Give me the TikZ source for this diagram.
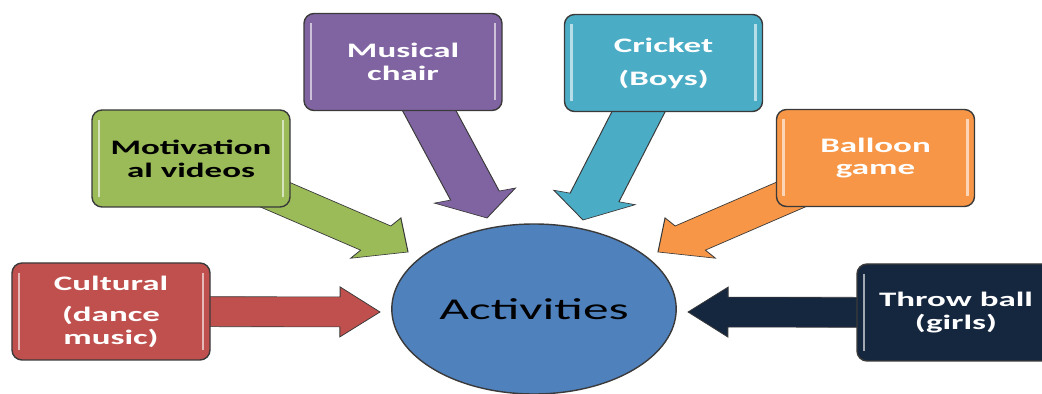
\documentclass[tikz,border=0pt]{standalone}
\usepackage{fontspec}
\setmainfont{Carlito}
\newfontfamily\boxfont[FakeStretch=1.7]{Carlito}
\usetikzlibrary{shapes.geometric}
\usetikzlibrary{calc}
\usetikzlibrary{backgrounds}

\definecolor{culred}{HTML}{C0504D}
\definecolor{motgreen}{HTML}{9BBB59}
\definecolor{muspurple}{HTML}{8064A2}
\definecolor{cricblue}{HTML}{4BACC6}
\definecolor{balorange}{HTML}{F79646}
\definecolor{thrnavy}{HTML}{15263F}
\definecolor{actblue}{HTML}{4F81BD}
\definecolor{edgegray}{HTML}{3A3A3A}

\tikzset{
	actbox/.style={draw=edgegray, line width=0.8pt, rounded corners=0.2cm,
		minimum width=3.96cm, minimum height=1.94cm, align=center, text=white,
		font=\boxfont\bfseries\fontsize{11.7}{13}\selectfont,
		path picture={\draw[white, opacity=0.6, line width=1.4pt]
			([shift={(0.14,-0.2)}]path picture bounding box.north west) -- ([shift={(0.14,0.2)}]path picture bounding box.south west)
			([shift={(-0.14,-0.2)}]path picture bounding box.north east) -- ([shift={(-0.14,0.2)}]path picture bounding box.south east);}},
	blkarrow/.style={draw=edgegray, line width=0.6pt, line join=miter}
}

% block arrow, drawn unsquashed and then squashed in y
\newcommand{\blkarrow}[3]{%
	\path let \p1=(#1), \p2=(#2) in (\x1,{\y1/0.588}) coordinate (s) (\x2,{\y2/0.588}) coordinate (e);
	\coordinate (h) at ($(e)!0.8cm!(s)$);
	\filldraw[blkarrow, fill=#3] ($(s)!0.51cm!90:(e)$) -- ($(h)!0.51cm!90:(e)$) -- ($(h)!0.85cm!90:(e)$) -- (e)
		-- ($(h)!0.85cm!-90:(e)$) -- ($(h)!0.51cm!-90:(e)$) -- ($(s)!0.51cm!-90:(e)$) -- cycle;}

\begin{document}
\begin{tikzpicture}
				\useasboundingbox (0,0) rectangle (20.84,7.88);
				\node[ellipse, draw=edgegray, fill=actblue, line width=0.8pt, minimum width=5.64cm, minimum height=3.4cm,
					font=\boxfont\fontsize{17.2}{19}\selectfont, text=black] (act) at (10.68,1.70) {Activities};
				\node[actbox, fill=culred] (cult) at (2.22,1.65) {Cultural\\[0.16cm](dance\\music)};
				\node[actbox, fill=motgreen, text=black] (motv) at (3.82,4.71) {Motivation\\al videos};
				\node[actbox, fill=muspurple] (musc) at (8.06,6.64) {Musical\\chair};
				\node[actbox, fill=cricblue] (cric) at (13.27,6.62) {Cricket\\[0.2cm](Boys)};
				\node[actbox, fill=balorange] (ball) at (17.51,4.72) {Balloon\\game};
				\node[actbox, fill=thrnavy] (thrw) at (19.12,1.63) {Throw ball\\(girls)};
				\coordinate (tcult) at (7.60,1.64);
				\coordinate (tmotv) at (8.16,2.84);
				\coordinate (tmusc) at (9.74,3.52);
				\coordinate (tcric) at (11.66,3.48);
				\coordinate (tball) at (13.16,2.84);
				\coordinate (tthrw) at (13.76,1.64);
				\begin{scope}[on background layer]
				\begin{scope}[transform canvas={yscale=0.588}]
				\blkarrow{cult.center}{tcult}{culred}
				\blkarrow{motv.center}{tmotv}{motgreen}
				\blkarrow{musc.center}{tmusc}{muspurple}
				\blkarrow{cric.center}{tcric}{cricblue}
				\blkarrow{ball.center}{tball}{balorange}
				\blkarrow{thrw.center}{tthrw}{thrnavy}
				\end{scope}
				\end{scope}
\end{tikzpicture}
\end{document}
